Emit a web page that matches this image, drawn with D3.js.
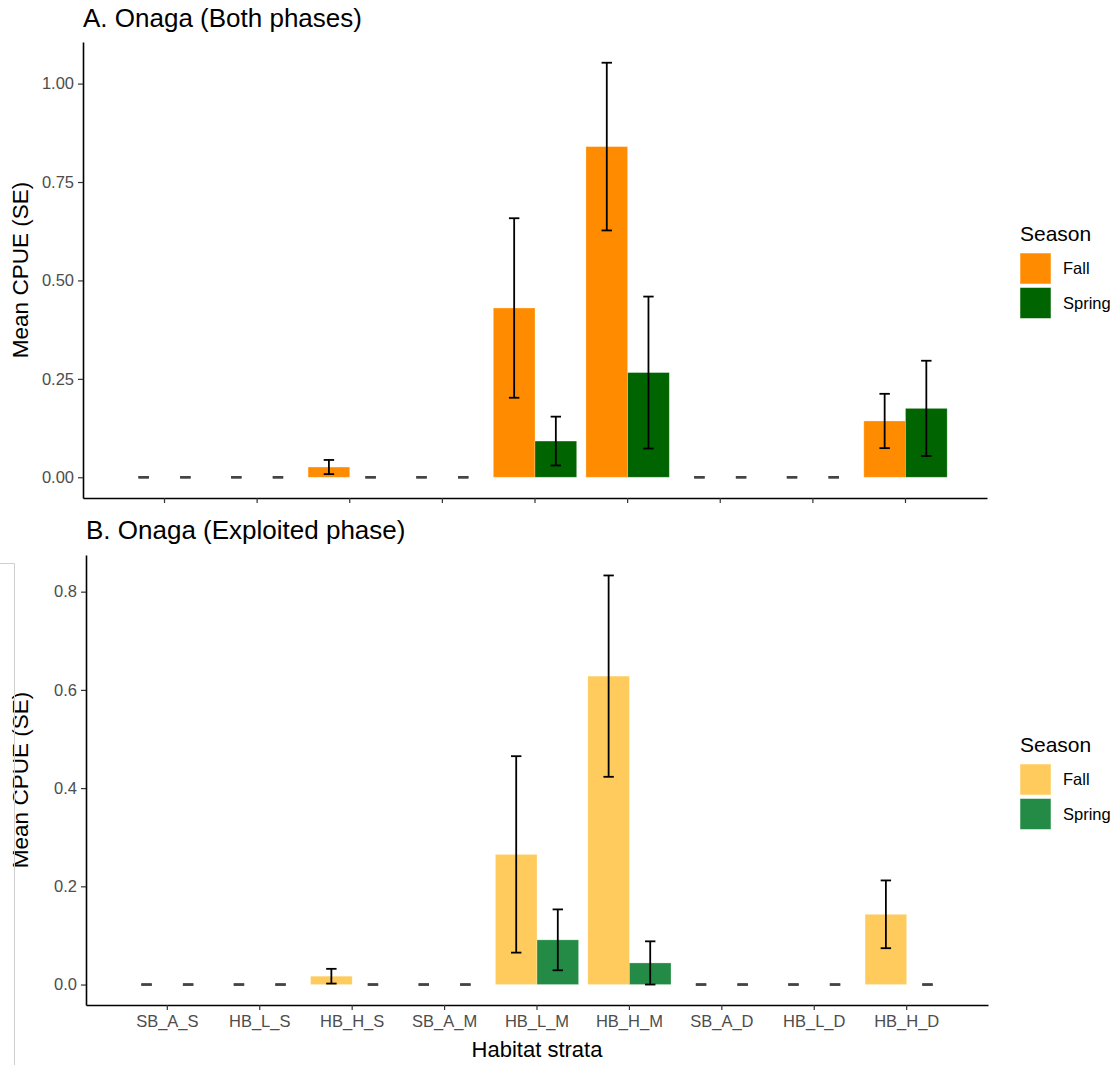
<!DOCTYPE html>
<html>
<head>
<meta charset="utf-8">
<script src="https://cdn.jsdelivr.net/npm/d3@7"></script>
<style>
  html, body { margin: 0; padding: 0; background: #fff; }
  svg { display: block; font-family: "Liberation Sans", Arial, sans-serif; }
</style>
</head>
<body>
<svg id="chart" width="1120" height="1065"></svg>
<script>
// Habitat strata on the x axis
const strata = ["SB_A_S", "HB_L_S", "HB_H_S", "SB_A_M", "HB_L_M", "HB_H_M", "SB_A_D", "HB_L_D", "HB_H_D"];
const seasons = ["Fall", "Spring"];

// A. Both phases: mean CPUE and standard error per stratum
const fallMeanA   = [0, 0, 0.026, 0, 0.430, 0.840, 0, 0, 0.143];
const fallSeA     = [0, 0, 0.018, 0, 0.228, 0.213, 0, 0, 0.069];
const springMeanA = [0, 0, 0,     0, 0.092, 0.266, 0, 0, 0.175];
const springSeA   = [0, 0, 0,     0, 0.062, 0.193, 0, 0, 0.121];

// B. Exploited phase
const fallMeanB   = [0, 0, 0.017, 0, 0.265, 0.628, 0, 0, 0.143];
const fallSeB     = [0, 0, 0.015, 0, 0.200, 0.205, 0, 0, 0.069];
const springMeanB = [0, 0, 0,     0, 0.091, 0.044, 0, 0, 0];
const springSeB   = [0, 0, 0,     0, 0.062, 0.044, 0, 0, 0];

// y-axis tick values
const yTicksA = [0, 0.25, 0.5, 0.75, 1.0];
const yTicksB = [0, 0.2, 0.4, 0.6, 0.8];

const svg = d3.select("#chart");

function rows(fallMean, fallSe, springMean, springSe) {
  const out = [];
  strata.forEach((s, i) => {
    out.push({ stratum: s, season: "Fall", mean: fallMean[i], se: fallSe[i] });
    out.push({ stratum: s, season: "Spring", mean: springMean[i], se: springSe[i] });
  });
  return out;
}

const panels = [
  {
    title: "A. Onaga (Both phases)",
    data: rows(fallMeanA, fallSeA, springMeanA, springSeA),
    colors: ["#FF8C00", "#006400"],
    left: 83, right: 987, top: 42, bottom: 498,
    yTicks: yTicksA, yFormat: d3.format(".2f"),
    titleY: 27, legendY: 241, xLabels: false
  },
  {
    title: "B. Onaga (Exploited phase)",
    data: rows(fallMeanB, fallSeB, springMeanB, springSeB),
    colors: ["#FECB5C", "#238B45"],
    left: 86, right: 988, top: 555, bottom: 1005,
    yTicks: yTicksB, yFormat: d3.format(".1f"),
    titleY: 539, legendY: 752, xLabels: true
  }
];

panels.forEach(p => {
  const g = svg.append("g");

  const x = d3.scaleBand()
    .domain(strata)
    .range([p.left, p.right])
    .paddingInner(0.1)
    .paddingOuter(0.43);

  const xSub = d3.scaleBand()
    .domain(seasons)
    .range([0, x.bandwidth()]);

  const maxV = d3.max(p.data, d => d.mean + d.se);
  const y = d3.scaleLinear()
    .domain([-0.05 * maxV, 1.05 * maxV])
    .range([p.bottom, p.top]);

  const color = d3.scaleOrdinal().domain(seasons).range(p.colors);

  // bars
  g.append("g").selectAll("rect")
    .data(p.data.filter(d => d.mean > 0))
    .join("rect")
    .attr("x", d => x(d.stratum) + xSub(d.season))
    .attr("width", xSub.bandwidth())
    .attr("y", d => y(d.mean))
    .attr("height", d => y(0) - y(d.mean))
    .attr("fill", d => color(d.season))
    .attr("stroke", "#fff")
    .attr("stroke-opacity", 0.35)
    .attr("stroke-width", 0.8);

  // error bars (mean ± SE, clipped at zero)
  const capW = xSub.bandwidth() * 0.25;
  const eb = g.append("g").selectAll("g")
    .data(p.data)
    .join("g")
    .attr("stroke", d => d.se > 0 ? "#000" : "#444")
    .attr("stroke-width", d => d.se > 0 ? 1.8 : 2.4)
    .attr("fill", "none");
  const cx = d => x(d.stratum) + xSub(d.season) + xSub.bandwidth() / 2;
  const lo = d => Math.max(0, d.mean - d.se);
  const hi = d => d.mean + d.se;
  eb.append("line")
    .attr("x1", cx).attr("x2", cx)
    .attr("y1", d => y(lo(d))).attr("y2", d => y(hi(d)));
  eb.append("line")
    .attr("x1", d => cx(d) - capW / 2).attr("x2", d => cx(d) + capW / 2)
    .attr("y1", d => y(hi(d))).attr("y2", d => y(hi(d)));
  eb.append("line")
    .attr("x1", d => cx(d) - capW / 2).attr("x2", d => cx(d) + capW / 2)
    .attr("y1", d => y(lo(d))).attr("y2", d => y(lo(d)));

  // axes
  const yAxis = g.append("g")
    .attr("transform", `translate(${p.left},0)`)
    .call(d3.axisLeft(y).tickValues(p.yTicks).tickFormat(p.yFormat).tickSize(5).tickSizeOuter(0).tickPadding(4));
  const xAxis = g.append("g")
    .attr("transform", `translate(0,${p.bottom})`)
    .call(d3.axisBottom(x).tickSize(5).tickSizeOuter(0).tickPadding(5));
  if (!p.xLabels) xAxis.selectAll(".tick text").remove();

  [yAxis, xAxis].forEach(a => {
    a.select(".domain").attr("stroke", "#000").attr("stroke-width", 1.6);
    a.selectAll(".tick line").attr("stroke", "#333").attr("stroke-width", 1.2);
    a.selectAll(".tick text")
      .attr("fill", "#4D4D4D")
      .style("font-size", "16.5px")
      .style("font-family", "'Liberation Sans', Arial, sans-serif");
  });

  // titles
  g.append("text")
    .attr("x", p.left)
    .attr("y", p.titleY)
    .attr("fill", "#000")
    .style("font-size", "26px")
    .text(p.title);

  g.append("text")
    .attr("transform", `translate(28,${(p.top + p.bottom) / 2}) rotate(-90)`)
    .attr("text-anchor", "middle")
    .attr("fill", "#000")
    .style("font-size", "22.5px")
    .text("Mean CPUE (SE)");

  if (p.xLabels) {
    g.append("text")
      .attr("x", (p.left + p.right) / 2)
      .attr("y", 1057)
      .attr("text-anchor", "middle")
      .attr("fill", "#000")
      .style("font-size", "22px")
      .text("Habitat strata");
  }

  // legend
  const lg = g.append("g").attr("transform", `translate(1020,${p.legendY})`);
  lg.append("text")
    .attr("x", 0).attr("y", 0)
    .attr("fill", "#000")
    .style("font-size", "21px")
    .text("Season");
  const item = lg.selectAll("g.item")
    .data(seasons)
    .join("g")
    .attr("class", "item")
    .attr("transform", (d, i) => `translate(0,${12 + i * 34.5})`);
  item.append("rect")
    .attr("width", 31).attr("height", 31)
    .attr("fill", d => color(d))
    .attr("stroke", "#fff")
    .attr("stroke-opacity", 0.5)
    .attr("stroke-width", 1);
  item.append("text")
    .attr("x", 43).attr("y", 15.5)
    .attr("dy", "0.35em")
    .attr("fill", "#000")
    .style("font-size", "16.5px")
    .text(d => d);
});

// thin frame line at the lower left edge
svg.append("path")
  .attr("d", "M0,563.5H14.5V1065")
  .attr("fill", "none")
  .attr("stroke", "#cfcfcf")
  .attr("stroke-width", 1);
</script>
</body>
</html>
